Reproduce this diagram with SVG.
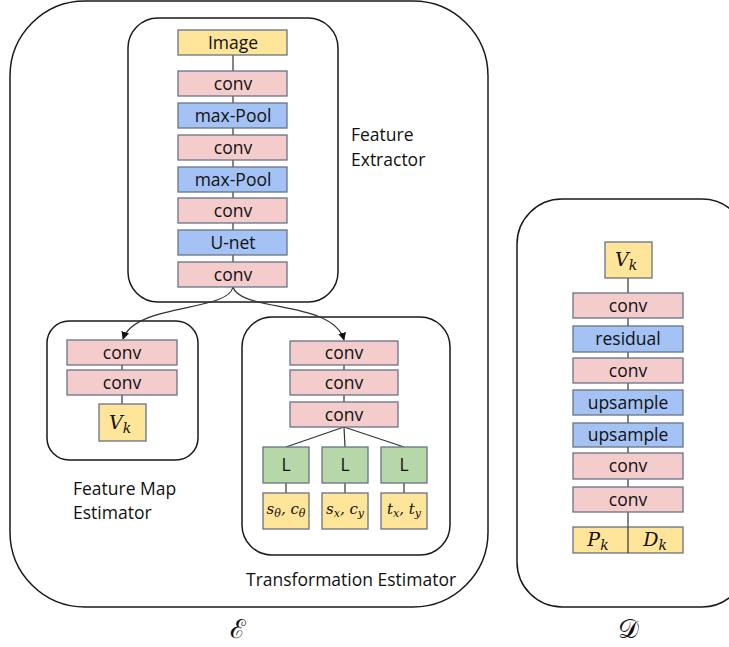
<svg xmlns="http://www.w3.org/2000/svg" width="729" height="647" viewBox="0 0 729 647">
  <style>
    .frame { fill: #ffffff; stroke: #1a1a1a; stroke-width: 1.5; }
    .blk { stroke: #677385; stroke-width: 1.3; }
    .pink { fill: #F4CCCC; }
    .blue { fill: #A4C2F4; }
    .yellow { fill: #FFE599; }
    .green { fill: #B6D7A8; }
    .lbl { font-family: "Open Sans", "Noto Sans", sans-serif; font-size: 17.5px; fill: #111; text-anchor: middle; }
    .cap { font-family: "Open Sans", "Noto Sans", sans-serif; font-size: 17.5px; fill: #111; }
    .math { font-family: "DejaVu Serif", "Liberation Serif", serif; font-style: italic; fill: #111; text-anchor: middle; }
    .script { font-family: "DejaVu Serif", "Liberation Serif", serif; font-size: 26px; fill: #111; text-anchor: middle; }
    .link { stroke: #333; stroke-width: 1.2; fill: none; }
  </style>
  <defs>
    <marker id="arrow" viewBox="0 0 10 10" refX="9" refY="5" markerWidth="8" markerHeight="8" markerUnits="userSpaceOnUse" orient="auto">
      <path d="M0,0 L10,5 L0,10 z" fill="#111"/>
    </marker>
  </defs>

  <!-- Encoder frame -->
  <g id="encoder">
    <rect class="frame" x="10" y="1" width="478" height="606" rx="75" ry="75"/>
    <text class="script" x="238" y="638">ℰ</text>
  </g>

  <!-- Decoder frame -->
  <g id="decoder">
    <rect class="frame" x="517" y="199" width="230" height="408" rx="45" ry="45"/>
    <text class="script" x="628" y="638">𝒟</text>
  </g>

  <!-- Sub-module frames -->
  <g id="feature-extractor">
    <rect class="frame" x="128" y="18" width="210" height="284" rx="30" ry="30"/>
    <text class="cap" x="351" y="141">Feature</text>
    <text class="cap" x="351" y="166">Extractor</text>
  </g>
  <g id="feature-map-estimator">
    <rect class="frame" x="47" y="321" width="151" height="139" rx="22" ry="22"/>
    <text class="cap" x="73" y="495">Feature Map</text>
    <text class="cap" x="73" y="519">Estimator</text>
  </g>
  <g id="transformation-estimator">
    <rect class="frame" x="242" y="317" width="208" height="238" rx="30" ry="30"/>
    <text class="cap" x="246" y="586">Transformation Estimator</text>
  </g>

  <!-- Connectors -->
  <g id="connectors">
    <!-- feature extractor chain -->
    <line class="link" x1="233" y1="55" x2="233" y2="71"/>
    <line class="link" x1="233" y1="96" x2="233" y2="103"/>
    <line class="link" x1="233" y1="128" x2="233" y2="135"/>
    <line class="link" x1="233" y1="160" x2="233" y2="167"/>
    <line class="link" x1="233" y1="192" x2="233" y2="198"/>
    <line class="link" x1="233" y1="223" x2="233" y2="230"/>
    <line class="link" x1="233" y1="255" x2="233" y2="262"/>
    <!-- branches to the two estimators -->
    <path class="link" d="M233,287 C228,312 135,303 123,339" marker-end="url(#arrow)"/>
    <path class="link" d="M233,287 C240,312 333,300 344,340" marker-end="url(#arrow)"/>
    <!-- feature map estimator chain -->
    <line class="link" x1="122" y1="365" x2="122" y2="370"/>
    <line class="link" x1="122" y1="395" x2="122" y2="404"/>
    <!-- transformation estimator chain -->
    <line class="link" x1="344" y1="365" x2="344" y2="370"/>
    <line class="link" x1="344" y1="395" x2="344" y2="402"/>
    <line class="link" x1="344" y1="427" x2="286" y2="447"/>
    <line class="link" x1="344" y1="427" x2="345" y2="447"/>
    <line class="link" x1="344" y1="427" x2="404" y2="447"/>
    <line class="link" x1="286" y1="483" x2="286" y2="493"/>
    <line class="link" x1="345" y1="483" x2="345" y2="493"/>
    <line class="link" x1="404" y1="483" x2="404" y2="493"/>
    <!-- decoder chain -->
    <line class="link" x1="628" y1="278" x2="628" y2="293"/>
    <line class="link" x1="628" y1="318" x2="628" y2="326"/>
    <line class="link" x1="628" y1="352" x2="628" y2="358"/>
    <line class="link" x1="628" y1="383" x2="628" y2="390"/>
    <line class="link" x1="628" y1="415" x2="628" y2="423"/>
    <line class="link" x1="628" y1="447" x2="628" y2="453"/>
    <line class="link" x1="628" y1="479" x2="628" y2="487"/>
    <line class="link" x1="628" y1="512" x2="628" y2="527"/>
  </g>

  <!-- Feature extractor blocks -->
  <g id="fe-image"><rect class="blk yellow" x="178" y="30" width="109" height="25"/><text class="lbl" x="233" y="49">Image</text></g>
  <g id="fe-conv1"><rect class="blk pink" x="178" y="71" width="109" height="25"/><text class="lbl" x="233" y="90">conv</text></g>
  <g id="fe-pool1"><rect class="blk blue" x="178" y="103" width="109" height="25"/><text class="lbl" x="233" y="122">max-Pool</text></g>
  <g id="fe-conv2"><rect class="blk pink" x="178" y="135" width="109" height="25"/><text class="lbl" x="233" y="154">conv</text></g>
  <g id="fe-pool2"><rect class="blk blue" x="178" y="167" width="109" height="25"/><text class="lbl" x="233" y="186">max-Pool</text></g>
  <g id="fe-conv3"><rect class="blk pink" x="178" y="198" width="109" height="25"/><text class="lbl" x="233" y="217">conv</text></g>
  <g id="fe-unet"><rect class="blk blue" x="178" y="230" width="109" height="25"/><text class="lbl" x="233" y="249">U-net</text></g>
  <g id="fe-conv4"><rect class="blk pink" x="178" y="262" width="109" height="25"/><text class="lbl" x="233" y="281">conv</text></g>

  <!-- Feature map estimator blocks -->
  <g id="fm-conv1"><rect class="blk pink" x="67" y="340" width="110" height="25"/><text class="lbl" x="122" y="359">conv</text></g>
  <g id="fm-conv2"><rect class="blk pink" x="67" y="370" width="110" height="25"/><text class="lbl" x="122" y="389">conv</text></g>
  <g id="fm-vk"><rect class="blk yellow" x="99" y="404" width="47" height="37"/><text class="math" x="120" y="429" font-size="19">V<tspan font-size="14" dy="4">k</tspan></text></g>

  <!-- Transformation estimator blocks -->
  <g id="te-conv1"><rect class="blk pink" x="290" y="341" width="108" height="24"/><text class="lbl" x="344" y="359">conv</text></g>
  <g id="te-conv2"><rect class="blk pink" x="290" y="370" width="108" height="25"/><text class="lbl" x="344" y="389">conv</text></g>
  <g id="te-conv3"><rect class="blk pink" x="290" y="402" width="108" height="25"/><text class="lbl" x="344" y="421">conv</text></g>
  <g id="te-l1"><rect class="blk green" x="263" y="447" width="46" height="36"/><text class="lbl" x="286" y="471">L</text></g>
  <g id="te-l2"><rect class="blk green" x="322" y="447" width="46" height="36"/><text class="lbl" x="345" y="471">L</text></g>
  <g id="te-l3"><rect class="blk green" x="381" y="447" width="46" height="36"/><text class="lbl" x="404" y="471">L</text></g>
  <g id="te-rot"><rect class="blk yellow" x="263" y="493" width="46" height="36"/><text class="math" x="286" y="514" font-size="15">s<tspan font-size="11" dy="3">θ</tspan><tspan dy="-3">, c</tspan><tspan font-size="11" dy="3">θ</tspan></text></g>
  <g id="te-scale"><rect class="blk yellow" x="322" y="493" width="46" height="36"/><text class="math" x="345" y="514" font-size="15">s<tspan font-size="11" dy="3">x</tspan><tspan dy="-3">, c</tspan><tspan font-size="11" dy="3">y</tspan></text></g>
  <g id="te-trans"><rect class="blk yellow" x="381" y="493" width="46" height="36"/><text class="math" x="404" y="514" font-size="15">t<tspan font-size="11" dy="3">x</tspan><tspan dy="-3">, t</tspan><tspan font-size="11" dy="3">y</tspan></text></g>

  <!-- Decoder blocks -->
  <g id="de-vk"><rect class="blk yellow" x="605" y="242" width="47" height="36"/><text class="math" x="626" y="266" font-size="19">V<tspan font-size="14" dy="4">k</tspan></text></g>
  <g id="de-conv1"><rect class="blk pink" x="573" y="293" width="110" height="25"/><text class="lbl" x="628" y="312">conv</text></g>
  <g id="de-res"><rect class="blk blue" x="573" y="326" width="110" height="26"/><text class="lbl" x="628" y="345">residual</text></g>
  <g id="de-conv2"><rect class="blk pink" x="573" y="358" width="110" height="25"/><text class="lbl" x="628" y="377">conv</text></g>
  <g id="de-up1"><rect class="blk blue" x="573" y="390" width="110" height="25"/><text class="lbl" x="628" y="409">upsample</text></g>
  <g id="de-up2"><rect class="blk blue" x="573" y="423" width="110" height="24"/><text class="lbl" x="628" y="441">upsample</text></g>
  <g id="de-conv3"><rect class="blk pink" x="573" y="453" width="110" height="26"/><text class="lbl" x="628" y="472">conv</text></g>
  <g id="de-conv4"><rect class="blk pink" x="573" y="487" width="110" height="25"/><text class="lbl" x="628" y="506">conv</text></g>
  <g id="de-out">
    <rect class="blk yellow" x="573" y="527" width="110" height="26"/>
    <line class="link" x1="628" y1="527" x2="628" y2="553"/>
    <text class="math" x="598" y="546" font-size="19">P<tspan font-size="14" dy="4">k</tspan></text>
    <text class="math" x="655" y="546" font-size="19">D<tspan font-size="14" dy="4">k</tspan></text>
  </g>
</svg>
